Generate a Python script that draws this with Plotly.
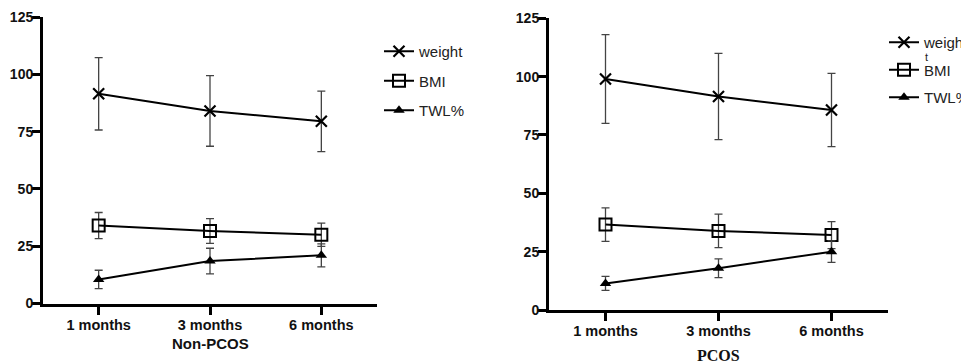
import plotly.graph_objects as go

months = ["1 months", "3 months", "6 months"]
y_ticks = [0, 25, 50, 75, 100, 125]

# Non-PCOS
np_weight = [91.5, 84.0, 79.5]
np_weight_err = [15.8, 15.4, 13.2]
np_bmi = [34.0, 31.6, 30.0]
np_bmi_err = [5.7, 5.4, 5.1]
np_twl = [10.5, 18.5, 21.0]
np_twl_err = [4.0, 5.6, 5.0]

# PCOS
p_weight = [99.0, 91.5, 85.7]
p_weight_err = [19.0, 18.5, 15.7]
p_bmi = [36.6, 33.9, 32.1]
p_bmi_err = [7.2, 7.2, 5.8]
p_twl = [11.4, 17.9, 25.0]
p_twl_err = [3.0, 4.0, 4.6]

# the page body has an 8px margin, so the figure is sized/positioned to fit the window
W, H = 961, 354

fig = go.Figure()

styles = {
    "weight": dict(symbol="x-thin-open", size=11, line=dict(width=2.2, color="black"), color="black"),
    "BMI": dict(symbol="square-open", size=12, line=dict(width=2, color="black"), color="black"),
    "TWL%": dict(symbol="triangle-up", size=10, line=dict(width=0, color="black"), color="black"),
}

def add(name, label, y, err, xa, ya, legend):
    fig.add_trace(go.Scatter(
        x=months, y=y, name=label, mode="lines+markers",
        xaxis=xa, yaxis=ya, legend=legend, legendgroup=legend + name,
        line=dict(color="black", width=2),
        marker=styles[name],
        error_y=dict(type="data", array=err, visible=True, color="#444", thickness=1.3, width=4),
    ))

add("weight", "weight", np_weight, np_weight_err, "x", "y", "legend")
add("BMI", "BMI", np_bmi, np_bmi_err, "x", "y", "legend")
add("TWL%", "TWL%", np_twl, np_twl_err, "x", "y", "legend")
add("weight", "weigh", p_weight, p_weight_err, "x2", "y2", "legend2")
add("BMI", "BMI", p_bmi, p_bmi_err, "x2", "y2", "legend2")
add("TWL%", "TWL%", p_twl, p_twl_err, "x2", "y2", "legend2")

xcommon = dict(type="category", range=[-0.5, 2.5], showline=True, linewidth=3, linecolor="black",
               ticks="outside", ticklen=8, tickwidth=3, tickcolor="black", showgrid=False,
               zeroline=False, ticklabelstandoff=-2, automargin=False,
               tickfont=dict(family="Liberation Sans, Arial", size=14.5, color="#111", weight="bold"),
               fixedrange=True)
ycommon = dict(range=[0, 125], tickvals=y_ticks, showline=True, linewidth=3, linecolor="black",
               ticks="outside", ticklen=8, tickwidth=3, tickcolor="black", showgrid=False,
               zeroline=False, ticklabelstandoff=-4, automargin=False,
               tickfont=dict(family="Liberation Sans, Arial", size=14, color="#111", weight="bold"),
               fixedrange=True)

legcommon = dict(font=dict(family="Liberation Sans, Arial", size=15, color="#222"),
                 bgcolor="rgba(0,0,0,0)", borderwidth=0, itemwidth=30,
                 xanchor="left", yanchor="top")

fig.update_layout(
    width=W, height=H,
    margin=dict(l=0, r=0, t=0, b=0, autoexpand=False),
    paper_bgcolor="white", plot_bgcolor="white",
    showlegend=True,
    xaxis=dict(domain=[35/W, 369/W], anchor="y", **xcommon),
    yaxis=dict(domain=[(H-295.5)/H, (H-9)/H], anchor="x", **ycommon),
    xaxis2=dict(domain=[541/W, 880/W], anchor="y2", **xcommon),
    yaxis2=dict(domain=[(H-302)/H, (H-10.3)/H], anchor="x2", **ycommon),
    legend=dict(x=371/W, y=1-27/H, tracegroupgap=7, **legcommon),
    legend2=dict(x=876/W, y=1-18/H, tracegroupgap=5, **legcommon),
    annotations=[
        dict(text="Non-PCOS", x=0.5, xref="x domain", y=1-335/H, yref="paper", yanchor="middle",
             showarrow=False,
             font=dict(family="Liberation Sans, Arial", size=15, color="#111", weight="bold")),
        dict(text="PCOS", x=0.5, xref="x2 domain", y=1-347/H, yref="paper", yanchor="middle",
             showarrow=False,
             font=dict(family="Liberation Serif, Times New Roman", size=16, color="#111", weight="bold")),
        dict(text="t", x=915/W, xref="paper", xanchor="left", y=1-49/H, yref="paper", yanchor="middle",
             showarrow=False,
             font=dict(family="Liberation Sans, Arial", size=11, color="#222")),
    ],
)

fig.write_html("out.html")
